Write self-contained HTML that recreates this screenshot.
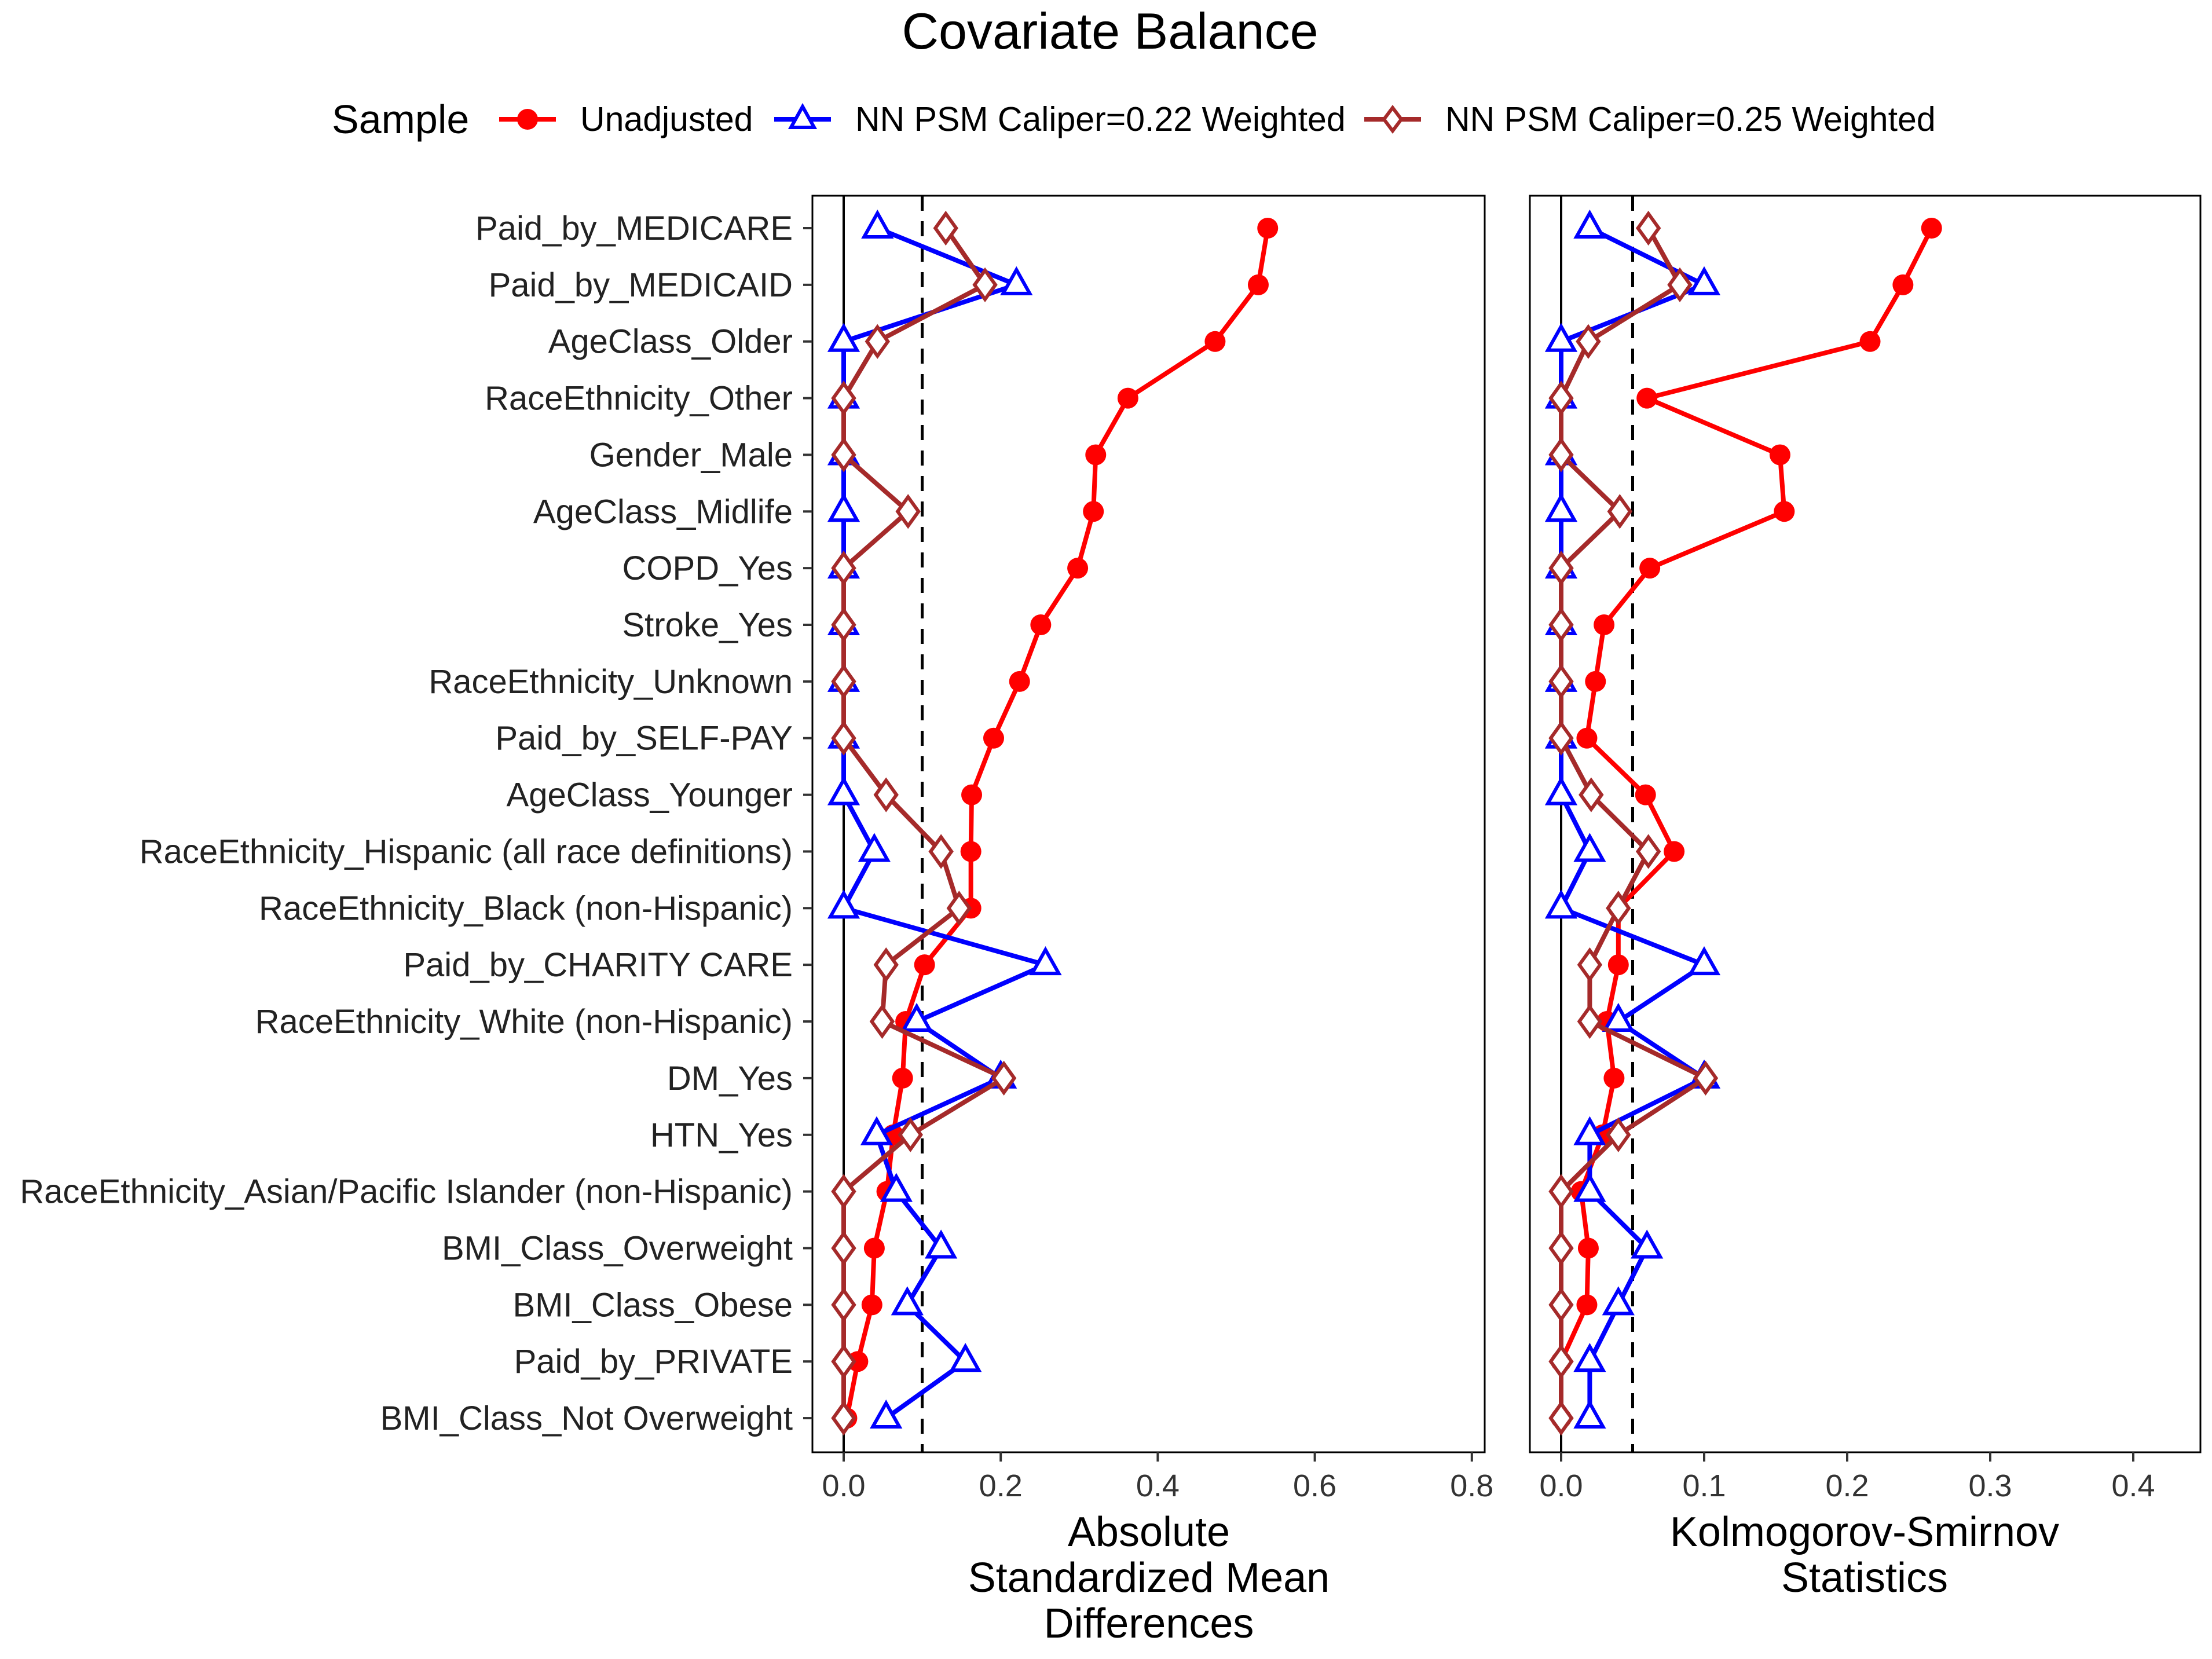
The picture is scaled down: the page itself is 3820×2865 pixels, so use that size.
<!DOCTYPE html>
<html><head><meta charset="utf-8">
<style>
html,body{margin:0;padding:0;background:#fff;}
svg{display:block;font-family:"Liberation Sans",Arial,sans-serif;}
</style></head>
<body>
<svg id="chart" width="3820" height="2865" viewBox="0 0 3820 2865" xmlns="http://www.w3.org/2000/svg">
<rect width="3820" height="2865" fill="#fff"/>
<text x="1917" y="84" font-size="88" text-anchor="middle">Covariate Balance</text>
<g>
<text x="573" y="230" font-size="70">Sample</text>
<g>
<line x1="862" y1="206" x2="960" y2="206" stroke="#f00" stroke-width="8"/>
<circle cx="911" cy="206" r="18" fill="#f00"/>
<text x="1002" y="226" font-size="59">Unadjusted</text></g>
<g>
<line x1="1337" y1="206" x2="1435" y2="206" stroke="#00f" stroke-width="8"/>
<path d="M1386,184 L1406,220 L1366,220 Z" fill="#fff" stroke="#00f" stroke-width="6"/>
<text x="1477" y="226" font-size="59">NN PSM Caliper=0.22 Weighted</text></g>
<g>
<line x1="2356" y1="206" x2="2454" y2="206" stroke="#a52a2a" stroke-width="8"/>
<path d="M2405,186 L2420,206 L2405,226 L2390,206 Z" fill="#fff" stroke="#a52a2a" stroke-width="6"/>
<text x="2496" y="226" font-size="59">NN PSM Caliper=0.25 Weighted</text></g>
</g>
<g id="plots"></g>
<text font-size="72" text-anchor="middle"><tspan x="1984" y="2670">Absolute</tspan><tspan x="1984" y="2749">Standardized Mean</tspan><tspan x="1984" y="2828">Differences</tspan></text>
<text font-size="72" text-anchor="middle"><tspan x="3220" y="2670">Kolmogorov-Smirnov</tspan><tspan x="3220" y="2749">Statistics</tspan></text>
</svg>
<script>
const covariates = ["Paid_by_MEDICARE","Paid_by_MEDICAID","AgeClass_Older","RaceEthnicity_Other","Gender_Male","AgeClass_Midlife","COPD_Yes","Stroke_Yes","RaceEthnicity_Unknown","Paid_by_SELF-PAY","AgeClass_Younger","RaceEthnicity_Hispanic (all race definitions)","RaceEthnicity_Black (non-Hispanic)","Paid_by_CHARITY CARE","RaceEthnicity_White (non-Hispanic)","DM_Yes","HTN_Yes","RaceEthnicity_Asian/Pacific Islander (non-Hispanic)","BMI_Class_Overweight","BMI_Class_Obese","Paid_by_PRIVATE","BMI_Class_Not Overweight"];
const smdUnadj = [0.540,0.528,0.473,0.362,0.321,0.318,0.298,0.251,0.224,0.191,0.163,0.162,0.162,0.103,0.079,0.075,0.063,0.055,0.039,0.036,0.018,0.004];
const smdCal22 = [0.043,0.220,0,0,0,0,0,0,0,0,0,0.039,0,0.257,0.093,0.200,0.042,0.067,0.124,0.081,0.155,0.054];
const smdCal25 = [0.130,0.180,0.043,0,0,0.082,0,0,0,0,0.054,0.124,0.147,0.054,0.049,0.204,0.085,0,0,0,0,0];
const ksUnadj = [0.259,0.239,0.216,0.060,0.153,0.156,0.062,0.030,0.024,0.018,0.059,0.079,0.040,0.040,0.032,0.037,0.029,0.014,0.019,0.018,0,0];
const ksCal22 = [0.020,0.100,0,0,0,0,0,0,0,0,0,0.020,0,0.100,0.040,0.100,0.020,0.020,0.060,0.040,0.020,0.020];
const ksCal25 = [0.061,0.083,0.019,0,0,0.041,0,0,0,0,0.021,0.061,0.040,0.020,0.020,0.101,0.040,0,0,0,0,0];
const smdTicks = [0,0.2,0.4,0.6,0.8];
const ksTicks = [0,0.1,0.2,0.3,0.4];
const smdThreshold = 0.1, ksThreshold = 0.05;

const NS="http://www.w3.org/2000/svg";
const root=document.getElementById('plots');
function mk(tag,attrs,parent){const e=document.createElementNS(NS,tag);for(const k in attrs)e.setAttribute(k,attrs[k]);(parent||root).appendChild(e);return e;}
const yTop=394, yStep=97.86;
function yPos(i){return yTop+i*yStep;}

function panel(name,left,right,x0,pxPerUnit,ticks,thr,series,showY){
  const top=338,bottom=2508;
  const g=mk('g',{});
  
  
  const xs=v=>x0+v*pxPerUnit;
  const fr=mk('rect',{x:left,y:top,width:right-left,height:bottom-top,fill:'none',stroke:'#000','stroke-width':3},g);
  
  
  const zl=mk('line',{x1:xs(0),x2:xs(0),y1:top,y2:bottom,stroke:'#000','stroke-width':4},g);
  
  
  const tl=mk('line',{x1:xs(thr),x2:xs(thr),y1:top,y2:bottom,stroke:'#000','stroke-width':5,'stroke-dasharray':'26 18'},g);
  
  
  ticks.forEach(t=>{
    mk('line',{x1:xs(t),x2:xs(t),y1:bottom,y2:bottom+16,stroke:'#333','stroke-width':4},g);
    const tx=mk('text',{x:xs(t),y:2584,'font-size':54,'text-anchor':'middle',fill:'#333'},g);
    tx.textContent=t.toFixed(1);
    
    
  });
  if(showY){
    covariates.forEach((c,i)=>{
      mk('line',{x1:left-16,x2:left,y1:yPos(i),y2:yPos(i),stroke:'#333','stroke-width':4},g);
      const tx=mk('text',{x:left-34,y:yPos(i)+20,'font-size':58,'text-anchor':'end',fill:'#222'},g);
      tx.textContent=c;
      
      
    });
  }
  series.forEach(s=>{
    const pts=s.vals.map((v,i)=>xs(v)+','+yPos(i)).join(' ');
    const pl=mk('polyline',{points:pts,fill:'none',stroke:s.color,'stroke-width':8,'stroke-linejoin':'round'},g);
    
    
    s.vals.forEach((v,i)=>{
      const x=xs(v),y=yPos(i);let m;
      if(s.shape==='circle') m=mk('circle',{cx:x,cy:y,r:18,fill:s.color},g);
      else if(s.shape==='tri') m=mk('path',{d:`M${x},${y-26} L${x+23},${y+15} L${x-23},${y+15} Z`,fill:'#fff',stroke:s.color,'stroke-width':6},g);
      else m=mk('path',{d:`M${x},${y-25} L${x+18},${y} L${x},${y+25} L${x-18},${y} Z`,fill:'#fff',stroke:s.color,'stroke-width':6},g);
      
      
    });
  });
}
panel('smd',1403,2564,1457,1356,smdTicks,smdThreshold,[
 {id:'unadjusted',vals:smdUnadj,color:'#f00',shape:'circle'},
 {id:'caliper-022',vals:smdCal22,color:'#00f',shape:'tri'},
 {id:'caliper-025',vals:smdCal25,color:'#a52a2a',shape:'dia'}],true);
panel('ks',2642,3800,2696,2470,ksTicks,ksThreshold,[
 {id:'unadjusted',vals:ksUnadj,color:'#f00',shape:'circle'},
 {id:'caliper-022',vals:ksCal22,color:'#00f',shape:'tri'},
 {id:'caliper-025',vals:ksCal25,color:'#a52a2a',shape:'dia'}],false);
</script>
</body></html>
